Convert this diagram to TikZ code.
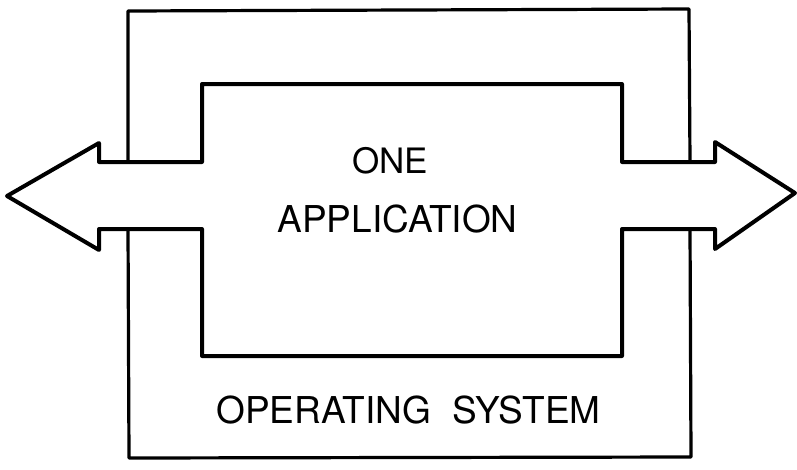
\documentclass[tikz,border=0pt]{standalone}
\usepackage{fontspec}
\setmainfont{TeX Gyre Heros}
\begin{document}
\begin{tikzpicture}[x=1pt,y=-1pt,
  thickline/.style={line width=4pt,line join=round,line cap=round},
  outerline/.style={line width=3.2pt,line join=round,line cap=round},
  label/.style={anchor=base,inner sep=0pt}]
\useasboundingbox (0,0) rectangle (797,469);
% inner box combined with the double arrow
\draw[thickline] (202,84) -- (202,162) -- (99,162) -- (99,143) -- (7,196)
  -- (99,250) -- (99,229) -- (202,229) -- (202,356) -- (622,356)
  -- (622,229) -- (715,229) -- (715,249) -- (795,193) -- (715,142)
  -- (715,162) -- (622,162) -- (622,84) -- cycle;
% outer box (operating system)
\draw[outerline] (128,162) -- (128,11) -- (689,9) -- (690,162);
\draw[outerline] (128,229) -- (129,458) -- (691,457) -- (690,229);
\node[label,font=\fontsize{35}{40}\selectfont] (one) at (390,173) {ONE};
\node[label,font=\fontsize{37}{42}\selectfont] (app) at (397.5,232) {APPLICATION};
\node[label,font=\fontsize{37}{42}\selectfont] (os) at (408.5,423) {OPERATING\hspace{22pt}SYSTEM};
\end{tikzpicture}
\end{document}
